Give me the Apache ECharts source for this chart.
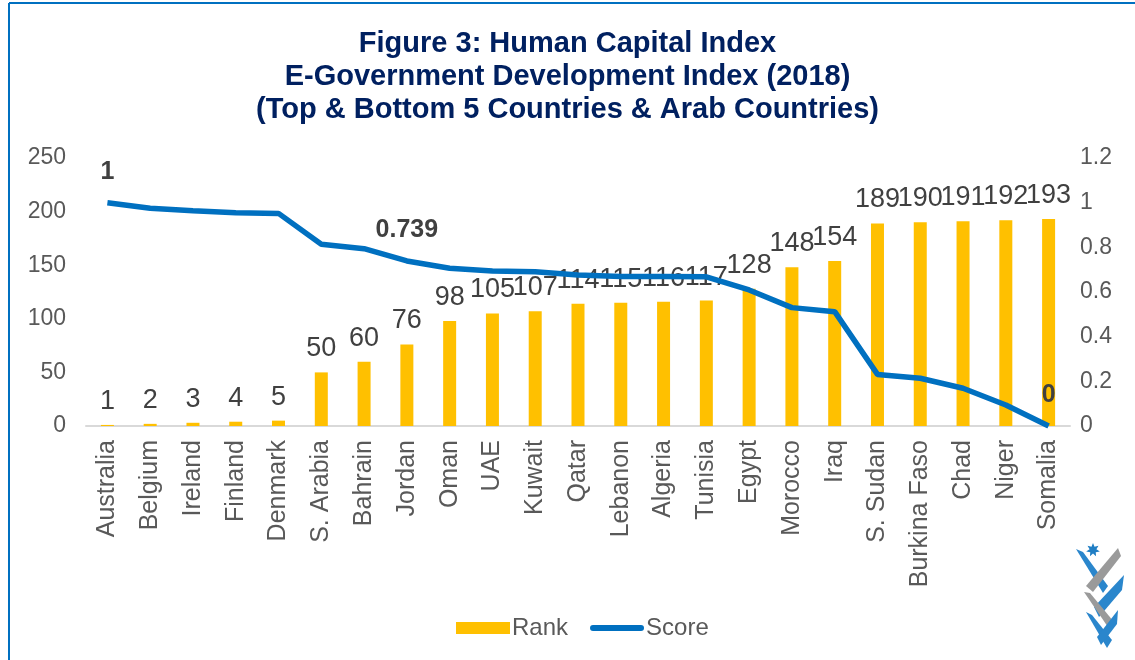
<!DOCTYPE html>
<html>
<head>
<meta charset="utf-8">
<script src="https://cdn.jsdelivr.net/npm/echarts@6/dist/echarts.min.js"></script>
<style>
  html, body { margin: 0; padding: 0; background: #fff; }
  #chart { width: 1135px; height: 660px; }
</style>
</head>
<body>
<div id="chart"></div>
<script>
// data
var countries = ["Australia", "Belgium", "Ireland", "Finland", "Denmark", "S. Arabia", "Bahrain", "Jordan",
  "Oman", "UAE", "Kuwait", "Qatar", "Lebanon", "Algeria", "Tunisia", "Egypt", "Morocco", "Iraq",
  "S. Sudan", "Burkina Faso", "Chad", "Niger", "Somalia"];
var rank = [1, 2, 3, 4, 5, 50, 60, 76, 98, 105, 107, 114, 115, 116, 117, 128, 148, 154, 189, 190, 191, 192, 193];
var score = [1, 0.975, 0.964, 0.955, 0.952, 0.814, 0.794, 0.739, 0.706, 0.694, 0.691, 0.676, 0.669, 0.669,
  0.668, 0.609, 0.530, 0.512, 0.231, 0.214, 0.169, 0.094, 0];
var scoreLabelIdx = [0, 7, 22]; // only these points carry a label
var titleLines = ["Figure 3: Human Capital Index", "E-Government Development Index (2018)",
  "(Top & Bottom 5 Countries & Arab Countries)"];

var font = 'Arial, "Liberation Sans", sans-serif';
var blue = "#0070C0";

// labelled score points (the line itself has no symbols)
var scoreLabelData = score.map(function (v, i) {
  return scoreLabelIdx.indexOf(i) >= 0 ? v : "-";
});

function starPoints(cx, cy, r1, r2, n) {
  var pts = [];
  for (var i = 0; i < n * 2; i++) {
    var r = i % 2 ? r2 : r1;
    var a = -Math.PI / 2 + i * Math.PI / n;
    pts.push([cx + r * Math.cos(a), cy + r * Math.sin(a)]);
  }
  return pts;
}

var chart = echarts.init(document.getElementById("chart"));
chart.setOption({
  animation: false,
  textStyle: { fontFamily: font },
  title: {
    text: titleLines.join("\n"),
    left: "center",
    top: 22,
    textStyle: { fontFamily: font, fontSize: 29, fontWeight: "bold", color: "#002060", lineHeight: 33 }
  },
  legend: {
    bottom: 15,
    left: 451,
    itemWidth: 54,
    itemHeight: 12,
    itemGap: 22,
    textStyle: { fontSize: 24, color: "#595959", fontFamily: font, padding: [0, 0, 0, -3] },
    data: [
      { name: "Rank", icon: "rect" },
      {
        name: "Score",
        icon: "path://M3,0 L51,0 A3,3 0 0 1 51,6 L3,6 A3,3 0 0 1 3,0 Z",
        itemStyle: { color: blue, opacity: 1 }
      }
    ]
  },
  grid: { left: 86, right: 65, top: 158, height: 268 },
  xAxis: {
    type: "category",
    data: countries,
    axisLine: { lineStyle: { color: "#d9d9d9", width: 2 } },
    axisTick: { show: false },
    axisLabel: { rotate: 90, interval: 0, fontSize: 25, color: "#595959", margin: 14, fontFamily: font }
  },
  yAxis: [
    {
      type: "value", min: 0, max: 250, interval: 50,
      splitLine: { show: false },
      axisLine: { show: false },
      axisTick: { show: false },
      axisLabel: { fontSize: 23, color: "#595959", margin: 20, fontFamily: font }
    },
    {
      type: "value", min: 0, max: 1.2, interval: 0.2,
      splitLine: { show: false },
      axisLine: { show: false },
      axisTick: { show: false },
      axisLabel: {
        fontSize: 23, color: "#595959", margin: 10, fontFamily: font,
        formatter: function (v) { return String(Math.round(v * 10) / 10); }
      }
    }
  ],
  series: [
    {
      name: "Rank",
      type: "bar",
      data: rank,
      barWidth: 13,
      itemStyle: { color: "#FFC000" },
      label: { show: true, position: "top", distance: 10, fontSize: 27, color: "#404040", fontFamily: font }
    },
    {
      name: "Score line",
      type: "line",
      yAxisIndex: 1,
      data: score,
      symbol: "none",
      lineStyle: { color: blue, width: 5.5 },
      itemStyle: { color: blue },
      z: 3
    },
    {
      // carries the legend entry and the three bold labels
      name: "Score",
      type: "scatter",
      yAxisIndex: 1,
      data: scoreLabelData,
      symbolSize: 0.01,
      itemStyle: { color: blue, opacity: 1 },
      label: {
        show: true, position: "top", distance: 18, fontSize: 25, fontWeight: "bold",
        color: "#404040", opacity: 1, fontFamily: font
      },
      silent: true,
      z: 4
    }
  ],
  graphic: [
    // thin blue frame on the top and left edges
    { type: "line", shape: { x1: 9, y1: 3, x2: 1135, y2: 3 }, style: { stroke: blue, lineWidth: 2 } },
    { type: "line", shape: { x1: 9, y1: 3, x2: 9, y2: 660 }, style: { stroke: blue, lineWidth: 2 } },
    // small logo, bottom right
    { type: "polygon", shape: { points: starPoints(1093, 550, 7, 3.5, 7) }, style: { fill: "#1f7ec4" } },
    { type: "polygon", shape: { points: [[1076, 549], [1083, 552], [1108, 586], [1103, 593]] }, style: { fill: "#2a86cc" } },
    { type: "polygon", shape: { points: [[1118, 548], [1121, 556], [1093, 592], [1086, 586]] }, style: { fill: "#9a9a9a" } },
    { type: "polygon", shape: { points: [[1124, 575], [1122, 590], [1099, 617], [1094, 607]] }, style: { fill: "#2a86cc" } },
    { type: "polygon", shape: { points: [[1084, 592], [1090, 593], [1114, 622], [1110, 630]] }, style: { fill: "#9a9a9a" } },
    { type: "polygon", shape: { points: [[1086, 612], [1092, 615], [1112, 640], [1107, 648]] }, style: { fill: "#2a86cc" } },
    { type: "polygon", shape: { points: [[1118, 610], [1117, 624], [1101, 645], [1097, 637]] }, style: { fill: "#2a86cc" } }
  ]
});
</script>
</body>
</html>
